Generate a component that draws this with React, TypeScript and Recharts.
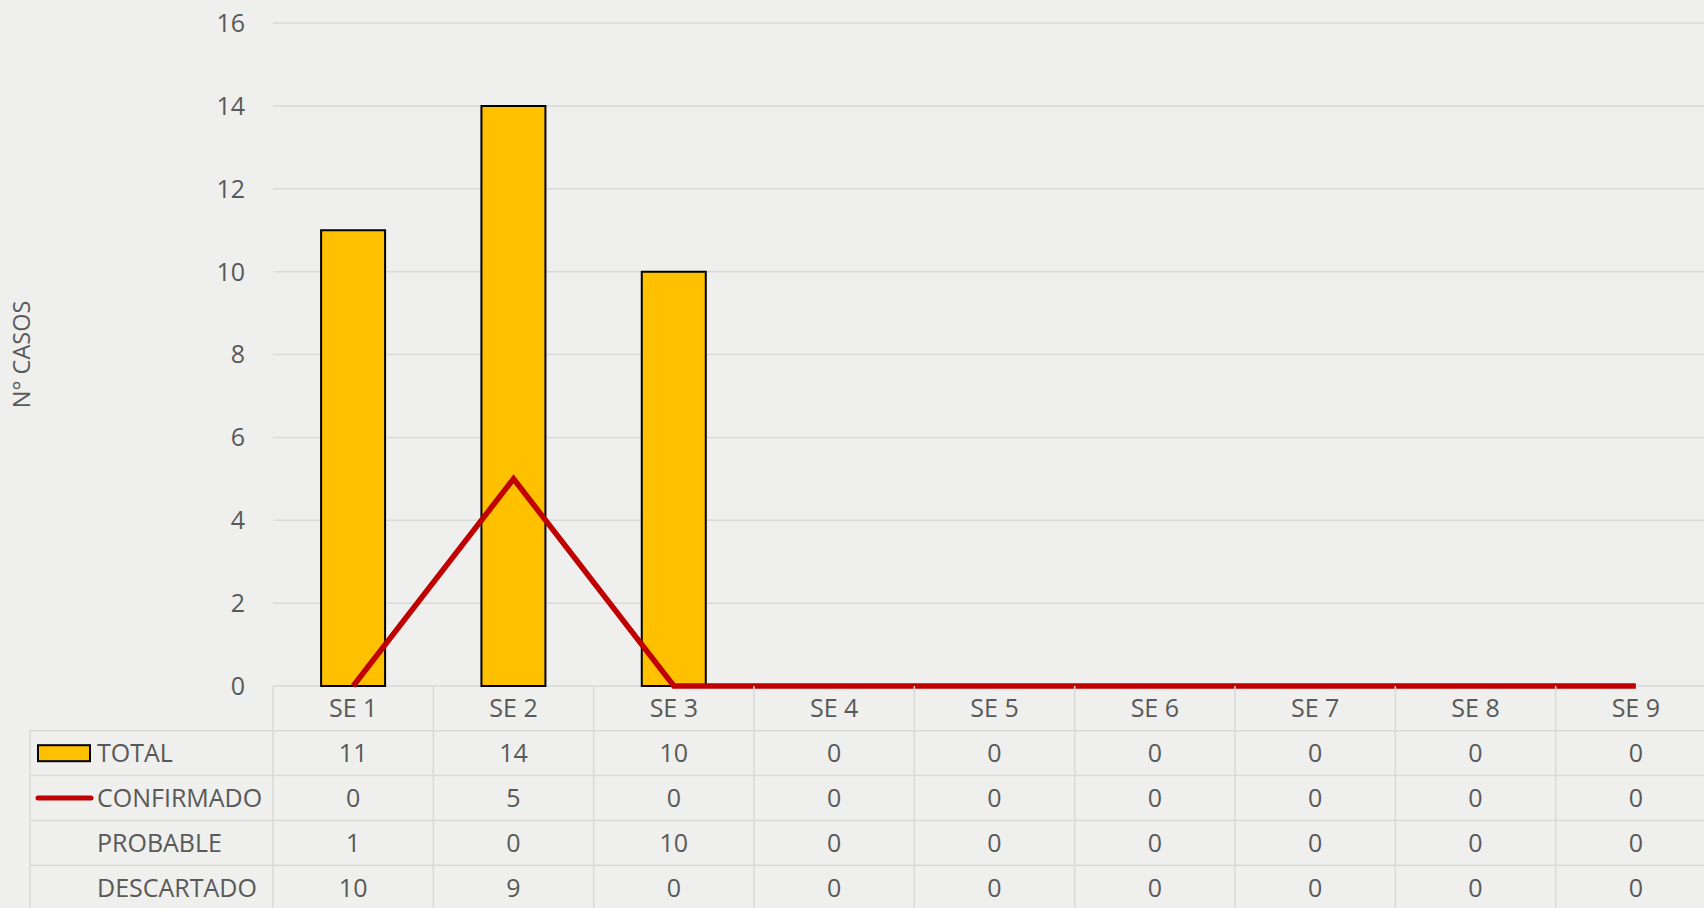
import React from 'react';
import { ComposedChart, Bar, Line, XAxis, YAxis, CartesianGrid } from 'recharts';

const categories = ['SE 1', 'SE 2', 'SE 3', 'SE 4', 'SE 5', 'SE 6', 'SE 7', 'SE 8', 'SE 9'];
const total = [11, 14, 10, 0, 0, 0, 0, 0, 0];
const confirmado = [0, 5, 0, 0, 0, 0, 0, 0, 0];
const probable = [1, 0, 10, 0, 0, 0, 0, 0, 0];
const descartado = [10, 9, 0, 0, 0, 0, 0, 0, 0];
const yTicks = [0, 2, 4, 6, 8, 10, 12, 14, 16];
const rowLabels = ['TOTAL', 'CONFIRMADO', 'PROBABLE', 'DESCARTADO'];
const rowValues = [total, confirmado, probable, descartado];

const data = categories.map((c, i) => ({
  name: c,
  total: total[i],
  confirmado: confirmado[i],
  probable: probable[i],
  descartado: descartado[i],
}));

const CHART_W = 1730;
const CHART_H = 908;
const MARGIN = { top: 23, right: 14, bottom: 0, left: 0 };
const Y_W = 273;
const X_H = 222;
const PLOT_RIGHT = CHART_W - MARGIN.right;
const COL_W = (PLOT_RIGHT - Y_W) / categories.length;
const ROW_H = 44.8;
const LEG_LEFT = 30;
const TEXT = '#595959';
const GRID = '#D9D9D9';
const FONT = '"Open Sans", sans-serif';
const FS = 25;
const BAR_FILL = '#FFC000';
const LINE_COLOR = '#C00000';

const TableTick = (props: any) => {
  const { x, y, payload, index } = props;
  const idx = payload?.index ?? index;
  const left = x - COL_W / 2;
  const bottom = y + ROW_H * 5 + 4;
  const els: React.ReactNode[] = [];
  if (idx === 0) {
    for (let r = 1; r <= 4; r++) {
      els.push(
        <line key={'h' + r} x1={LEG_LEFT} x2={PLOT_RIGHT} y1={y + ROW_H * r} y2={y + ROW_H * r} stroke={GRID} strokeWidth={1.5} />
      );
    }
    els.push(<line key="vleg" x1={LEG_LEFT} x2={LEG_LEFT} y1={y + ROW_H} y2={bottom} stroke={GRID} strokeWidth={1.5} />);
    rowLabels.forEach((lab, r) => {
      const cy = y + ROW_H * (r + 1.5);
      els.push(
        <text key={'l' + r} x={97} y={cy} dy="0.36em" fill={TEXT} fontSize={FS} fontFamily={FONT} textAnchor="start">
          {lab}
        </text>
      );
    });
    const c0 = y + ROW_H * 1.5;
    els.push(<rect key="k0" x={38} y={c0 - 8} width={52} height={16} fill={BAR_FILL} stroke="#000" strokeWidth={2} />);
    const c1 = y + ROW_H * 2.5;
    els.push(<line key="k1" x1={38} x2={91} y1={c1} y2={c1} stroke={LINE_COLOR} strokeWidth={5} strokeLinecap="round" />);
  }
  els.push(<line key="v" x1={left} x2={left} y1={y} y2={bottom} stroke={GRID} strokeWidth={1.5} />);
  if (idx === categories.length - 1) {
    els.push(<line key="vr" x1={left + COL_W} x2={left + COL_W} y1={y} y2={bottom} stroke={GRID} strokeWidth={1.5} />);
  }
  els.push(
    <text key="hd" x={x} y={y + ROW_H * 0.5} dy="0.36em" fill={TEXT} fontSize={FS} fontFamily={FONT} textAnchor="middle">
      {payload.value}
    </text>
  );
  rowValues.forEach((vals, r) => {
    els.push(
      <text key={'c' + r} x={x} y={y + ROW_H * (r + 1.5)} dy="0.36em" fill={TEXT} fontSize={FS} fontFamily={FONT} textAnchor="middle">
        {vals[idx]}
      </text>
    );
  });
  return <g>{els}</g>;
};

const YLabel = (props: any) => {
  const vb = props.viewBox || {};
  const cx = 22;
  const cy = (vb.y ?? 23) + (vb.height ?? 663) / 2;
  return (
    <text x={cx} y={cy} transform={`rotate(-90 ${cx} ${cy})`} dy="0.36em" textAnchor="middle" fill={TEXT} fontSize={23.5} fontFamily={FONT}>
      N° CASOS
    </text>
  );
};

export default function App() {
  return (
    <div
      style={{
        position: 'fixed',
        left: 0,
        top: 0,
        width: 1704,
        height: 908,
        overflow: 'hidden',
        background: '#EFEFEE',
      }}
    >
      <ComposedChart width={CHART_W} height={CHART_H} data={data} margin={MARGIN} barCategoryGap="30%">
        <CartesianGrid horizontal vertical={false} stroke={GRID} strokeWidth={1.5} />
        <XAxis
          dataKey="name"
          height={X_H}
          axisLine={false}
          tickLine={false}
          tickSize={0}
          tickMargin={0}
          interval={0}
          tick={<TableTick />}
        />
        <YAxis
          width={Y_W}
          domain={[0, 16]}
          ticks={yTicks}
          axisLine={false}
          tickLine={false}
          tickSize={0}
          tickMargin={28}
          tick={{ fill: TEXT, fontSize: FS, fontFamily: FONT }}
          label={<YLabel />}
        />
        <Bar dataKey="total" fill={BAR_FILL} stroke="#000" strokeWidth={2} isAnimationActive={false} />
        <Line
          dataKey="confirmado"
          type="linear"
          stroke={LINE_COLOR}
          strokeWidth={5.5}
          dot={false}
          activeDot={false}
          isAnimationActive={false}
        />
      </ComposedChart>
    </div>
  );
}
